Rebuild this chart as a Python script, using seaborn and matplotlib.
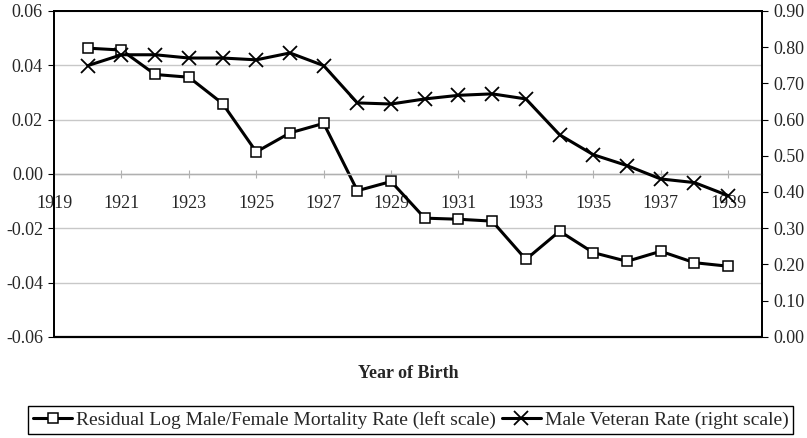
from matplotlib import pyplot as plt
import seaborn as sns
import pandas as pd

years = list(range(1920, 1940))

residual = [0.0463, 0.0456, 0.0366, 0.0356, 0.0259, 0.0081, 0.0151, 0.0186, -0.0062, -0.0028,
            -0.0163, -0.0167, -0.0174, -0.0315, -0.0211, -0.0290, -0.0322, -0.0285, -0.0327, -0.0340]

veteran = [0.749, 0.779, 0.779, 0.770, 0.770, 0.765, 0.784, 0.749, 0.646, 0.643,
           0.657, 0.667, 0.671, 0.657, 0.558, 0.503, 0.473, 0.436, 0.426, 0.390]

left_ticks = [-0.06, -0.04, -0.02, 0.00, 0.02, 0.04, 0.06]
right_ticks = [0.0, 0.1, 0.2, 0.3, 0.4, 0.5, 0.6, 0.7, 0.8, 0.9]
year_ticks = list(range(1919, 1940, 2))

df = pd.DataFrame({"year": years, "residual": residual, "veteran": veteran})

sns.set_style("white")
plt.rcParams['font.family'] = ['Liberation Serif', 'DejaVu Serif']

fig = plt.figure(figsize=(8.07, 4.38), dpi=100)
ax = fig.add_axes([0.067, 0.231, 0.877, 0.744])
ax2 = ax.twinx()

sns.lineplot(data=df, x="year", y="residual", ax=ax, color="black", lw=2.2,
             marker="s", markersize=7, markerfacecolor="white", markeredgecolor="black",
             markeredgewidth=1.1, label="Residual Log Male/Female Mortality Rate (left scale)",
             legend=False)
sns.lineplot(data=df, x="year", y="veteran", ax=ax2, color="black", lw=2.2,
             marker="x", markersize=10, markeredgewidth=1.3, markeredgecolor="black",
             label="Male Veteran Rate (right scale)", legend=False)

ax.set_xlim(1919, 1940)
ax.set_ylim(-0.06, 0.06)
ax2.set_ylim(0, 0.9)
ax.set_yticks(left_ticks)
ax.set_yticklabels([f"{t:.2f}" for t in left_ticks])
ax2.set_yticks(right_ticks)
ax2.set_yticklabels([f"{t:.2f}" for t in right_ticks])
ax.set_xticks(year_ticks)
ax.set_xticklabels([str(y) for y in year_ticks])

ax.yaxis.grid(True, color="#c8c8c8", lw=1.0)
ax.set_axisbelow(True)

for a in (ax, ax2):
    for s in a.spines.values():
        s.set_color("black")
        s.set_linewidth(1.3)
ax2.spines['bottom'].set_visible(False)
ax.spines['bottom'].set_position(('data', 0))
ax.spines['bottom'].set_color("#b0b0b0")
ax.spines['bottom'].set_linewidth(1.0)
ax.plot([1919, 1940], [-0.06, -0.06], color="black", lw=1.6, clip_on=False)

ax.tick_params(axis="y", direction="out", length=4, labelsize=13, color="black", pad=4)
ax2.tick_params(axis="y", direction="out", length=4, labelsize=13, color="black", pad=4)
ax.tick_params(axis="x", direction="inout", length=6, labelsize=13, color="#b0b0b0", pad=12)
ax.xaxis.set_ticks_position("bottom")

ax.set_xlabel("")
ax.set_ylabel("")
ax2.set_ylabel("")
fig.text(0.506, 0.148, "Year of Birth", ha="center", va="center", fontsize=13, fontweight="bold")

h1, l1 = ax.get_legend_handles_labels()
h2, l2 = ax2.get_legend_handles_labels()
fig.legend(h1 + h2, l1 + l2, loc="lower center", bbox_to_anchor=(0.509, -0.012), ncol=2,
           fontsize=14, frameon=True, fancybox=False, edgecolor="black", framealpha=1,
           handlelength=2.0, handletextpad=0.2, columnspacing=0.3, borderpad=0.25)

fig.savefig("out.png", dpi=100)
